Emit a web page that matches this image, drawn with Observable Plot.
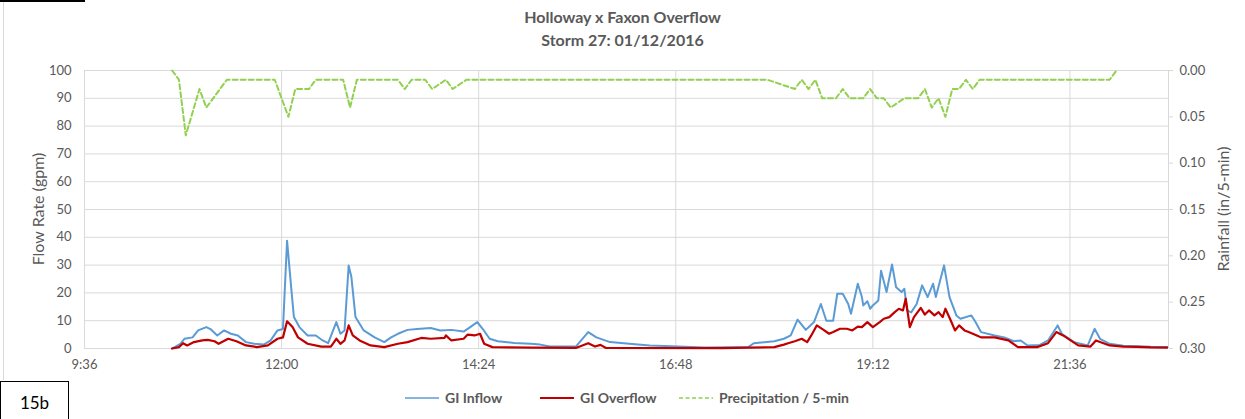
<!DOCTYPE html>
<html>
<head>
<meta charset="utf-8">
<script src="https://cdn.jsdelivr.net/npm/d3@7"></script>
<script src="https://cdn.jsdelivr.net/npm/@observablehq/plot@0.6"></script>
<style>
  body { margin: 0; background: #fff; }
  #wrap { position: relative; width: 1245px; height: 419px; overflow: hidden; background: #fff;
          font-family: Lato, "Open Sans", "DejaVu Sans", sans-serif; color: #595959; }
  #title { position: absolute; left: 0; top: 5px; width: 1245px; text-align: center;
           font-size: 16px; font-weight: bold; line-height: 23px; color: #595959; }
  #chart { position: absolute; left: 0; top: 55px; }
  .ytitle { position: absolute; font-size: 16px; color: #595959; white-space: nowrap;
            transform: translate(-50%, -50%) rotate(-90deg); }
  #legend { position: absolute; left: 0; top: 389px; height: 18px; font-size: 14px;
            font-weight: bold; color: #595959; }
  .li { position: absolute; top: 0; display: flex; align-items: center; white-space: nowrap; }
  .li svg { margin-right: 6px; }
  #tag { position: absolute; left: 0; top: 381px; width: 69px; height: 38px; border: 1px solid #000;
         border-bottom: none; box-sizing: border-box; font-size: 17px; color: #000;
         text-align: center; line-height: 42px; }
  #topbar { position: absolute; left: 0; top: 0; width: 85px; height: 2px; background: #000; }
  #frame { position: absolute; left: 3px; top: 2px; width: 1px; height: 378px; background: #d9d9d9; z-index: 5; }
</style>
</head>
<body>
<div id="wrap">
  <div id="title">Holloway x Faxon Overflow<br>Storm 27: 01/12/2016</div>
  <div id="chart"></div>
  <div id="topbar"></div>
  <div id="frame"></div>
  <div class="ytitle" style="left:37px; top:209px;">Flow Rate (gpm)</div>
  <div class="ytitle" style="left:1222px; top:209px;">Rainfall (in/5-min)</div>
  <div id="legend"></div>
  <div id="tag">15b</div>
</div>
<script>
// ---------- data ----------
const inflowTimes = ["10:40","10:46","10:49","10:55","10:59","11:05","11:08","11:13","11:18","11:23","11:28","11:34","11:40","11:47","11:52","11:57","12:01","12:04","12:07","12:09","12:13","12:19","12:25","12:30","12:34","12:40","12:43","12:46","12:49","12:51","12:54","13:00","13:08","13:15","13:20","13:25","13:32","13:39","13:49","13:56","14:04","14:13","14:17","14:23","14:27","14:32","14:38","14:50","15:02","15:09","15:16","15:35","15:44","15:50","16:00","16:14","16:29","16:50","17:09","17:41","17:45","18:00","18:07","18:12","18:17","18:23","18:29","18:34","18:38","18:43","18:46","18:50","18:54","18:56","19:01","19:04","19:05","19:08","19:10","19:12","19:16","19:18","19:22","19:26","19:29","19:33","19:35","19:37","19:40","19:44","19:48","19:52","19:56","19:58","20:04","20:08","20:13","20:16","20:24","20:27","20:31","20:41","20:48","20:55","21:00","21:05","21:14","21:20","21:27","21:30","21:39","21:49","21:54","21:58","22:05","22:15","22:25","22:35","22:47"];
const inflowValues = [0,1.7,3.5,4,6.5,7.7,7,4.7,6.5,5.3,4.7,2.3,1.7,1.4,2.9,6.5,7,38.8,22,11.3,7.7,4.7,4.7,2.9,1.9,9.5,5.3,6.5,29.9,25.7,11.3,6.5,4,2.3,4,5.3,6.7,7,7.4,6.5,6.7,6.1,7.4,9.5,7,3.5,2.6,2,1.7,1.4,0.7,0.7,5.9,4,2.3,1.7,1.1,0.7,0.4,0.5,1.9,2.6,3.5,4.7,10.4,6.7,9.5,16,10,10,19.7,19.7,16,12.5,23.3,18.5,15.5,17,14.3,15.5,17.3,28,20.3,30.2,22,20.3,21.5,13.7,13,16,22.7,18.5,23.3,18.5,29.9,18.5,11.9,10.7,11.9,9.5,5.9,4.7,4,2.6,2.9,1.1,1.3,2.9,8.3,5.3,2.3,1.1,7.1,3.5,1.7,1.0,0.8,0.6,0.5];

const overflowTimes = ["10:40","10:45","10:48","10:51","10:56","11:02","11:06","11:11","11:14","11:21","11:27","11:34","11:42","11:50","11:57","12:01","12:04","12:08","12:12","12:19","12:29","12:36","12:40","12:43","12:46","12:49","12:52","12:57","13:05","13:15","13:25","13:32","13:42","13:49","13:59","14:00","14:04","14:13","14:16","14:21","14:25","14:28","14:34","15:02","15:35","15:44","15:49","15:53","15:57","17:22","18:00","18:07","18:10","18:15","18:20","18:24","18:27","18:31","18:36","18:40","18:43","18:48","18:53","18:57","19:01","19:04","19:08","19:12","19:17","19:20","19:24","19:28","19:31","19:34","19:36","19:39","19:42","19:47","19:50","19:53","19:57","20:00","20:03","20:05","20:09","20:12","20:15","20:19","20:22","20:28","20:31","20:41","20:51","20:58","21:12","21:20","21:26","21:31","21:42","21:51","21:55","22:05","22:15","22:25","22:35","22:47"];
const overflowValues = [0,0.5,1.9,1.1,2.3,2.9,3.1,2.6,1.7,3.5,2.6,1.1,0.5,1.1,3.5,4,9.8,7.7,4,1.7,0.7,0.7,3.5,1.7,2.9,8.3,4.7,2.9,1.1,0.5,1.7,2.3,3.8,3.5,3.8,4.7,2.9,3.5,5,4.7,5.3,1.7,0.5,0.3,0.2,1.9,0.7,1.3,0.2,0.1,0.5,1.4,1.9,2.6,3.5,2.3,4.7,8.3,6.7,5.3,5.9,7.1,7.1,6.5,7.9,7.7,9.5,7.7,9.5,10.7,11.3,13.1,14.3,13.7,17.9,7.7,11.3,14.6,12.2,13.7,11.9,13.1,11.3,14.3,10,6.5,8.3,6.5,5.9,4.7,4,4,2.9,0.5,0.5,1.9,5.9,4.7,1.1,0.7,2.9,1.1,0.7,0.6,0.4,0.3];

const precipTimes = ["10:40","10:45","10:50","10:55","11:00","11:05","11:20","11:55","12:05","12:10","12:20","12:25","12:45","12:50","12:55","13:25","13:30","13:35","13:45","13:50","14:00","14:05","14:15","17:55","18:15","18:20","18:25","18:30","18:35","18:45","18:50","18:55","19:05","19:10","19:15","19:20","19:25","19:35","19:45","19:50","19:55","20:00","20:05","20:10","20:15","20:20","20:25","20:30","22:05","22:10"];
const precipValues = [0,0.01,0.07,0.045,0.02,0.04,0.01,0.01,0.05,0.02,0.02,0.01,0.01,0.04,0.01,0.01,0.02,0.01,0.01,0.02,0.01,0.02,0.01,0.01,0.02,0.01,0.02,0.01,0.03,0.03,0.02,0.03,0.03,0.02,0.03,0.03,0.04,0.03,0.03,0.02,0.04,0.03,0.05,0.02,0.02,0.01,0.02,0.01,0.01,0];

const xTickLabels = ["9:36","12:00","14:24","16:48","19:12","21:36"];
const xEndLabel = "22:48";
const flowTicks = [0,10,20,30,40,50,60,70,80,90,100];
const rainTicks = [0,0.05,0.10,0.15,0.20,0.25,0.30];

const seriesNames = ["GI Inflow","GI Overflow","Precipitation / 5-min"];
const seriesColors = ["#5B9BD5","#C00000","#92D050"];

// ---------- build ----------
const toMin = s => { const [h, m] = s.split(":").map(Number); return h * 60 + m; };
const fmtMin = m => `${Math.floor(m / 60)}:${String(Math.round(m % 60)).padStart(2, "0")}`;
const xTicks = xTickLabels.map(toMin);
const rainMax = rainTicks[rainTicks.length - 1];
const rainToY = r => 100 - r / rainMax * 100;
const yToRain = v => (100 - v) / 100 * rainMax;

const inflow = inflowTimes.map((t, i) => ({t: toMin(t), v: inflowValues[i]}));
const overflow = overflowTimes.map((t, i) => ({t: toMin(t), v: overflowValues[i]}));
const precip = precipTimes.map((t, i) => ({t: toMin(t), r: precipValues[i]}));

const grid = "#d9d9d9";
const chart = Plot.plot({
  width: 1245, height: 325,
  marginLeft: 84, marginRight: 77, marginTop: 15, marginBottom: 32,
  x: {domain: [xTicks[0], toMin(xEndLabel)]},
  y: {domain: [0, 100]},
  style: {fontFamily: 'Lato, "Open Sans", sans-serif', fontSize: "13px", color: "#595959", background: "white"},
  marks: [
    Plot.gridY(flowTicks, {stroke: grid, strokeOpacity: 1}),
    Plot.gridX(xTicks.slice(1), {stroke: grid, strokeOpacity: 1}),
    Plot.ruleX([xTicks[0]], {stroke: grid, strokeWidth: 1}),
    Plot.ruleX([toMin(xEndLabel)], {stroke: grid, strokeWidth: 1}),
    Plot.axisY({ticks: flowTicks, tickSize: 0, tickPadding: 13, label: null}),
    Plot.axisY({anchor: "right", ticks: rainTicks.map(rainToY), tickFormat: v => yToRain(v).toFixed(2),
                tickSize: 4, tickPadding: 7, stroke: grid, label: null}),
    Plot.axisX({ticks: xTicks, tickFormat: fmtMin, tickSize: 0, tickPadding: 11, label: null}),
    Plot.line(inflow, {x: "t", y: "v", stroke: seriesColors[0], strokeWidth: 2}),
    Plot.line(overflow, {x: "t", y: "v", stroke: seriesColors[1], strokeWidth: 2.2}),
    Plot.line(precip, {x: "t", y: d => rainToY(d.r), stroke: seriesColors[2], strokeWidth: 2,
                       strokeDasharray: "5,3"})
  ]
});
document.getElementById("chart").appendChild(chart);

// legend
const legend = document.getElementById("legend");
const legendX = [405, 540, 679];
seriesNames.forEach((name, i) => {
  const item = document.createElement("div");
  item.className = "li";
  item.style.left = legendX[i] + "px";
  const dash = i === 2 ? ' stroke-dasharray="4,2.5"' : "";
  item.innerHTML = `<svg width="34" height="10"><line x1="0" y1="5" x2="34" y2="5" stroke="${seriesColors[i]}" stroke-width="${i === 1 ? 2 : 1.7}"${dash}/></svg><span>${name}</span>`;
  legend.appendChild(item);
});
</script>
</body>
</html>
